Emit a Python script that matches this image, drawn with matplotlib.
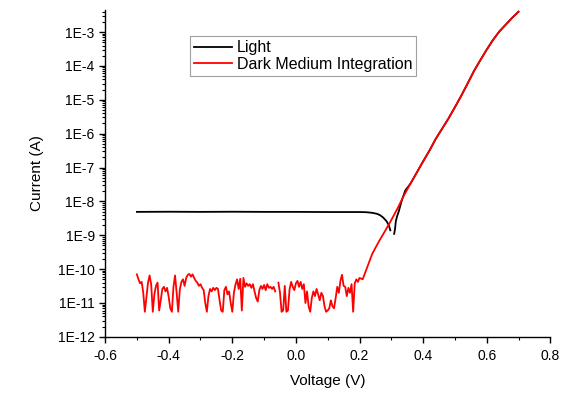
import numpy as np
import matplotlib
matplotlib.use('Agg')
import matplotlib.pyplot as plt
from matplotlib.ticker import FuncFormatter, LogLocator, MultipleLocator, NullFormatter

plt.rcParams['font.family'] = ['Liberation Sans', 'DejaVu Sans']
plt.rcParams['axes.unicode_minus'] = False

# Dark current noise floor, -0.5 V .. 0.2 V in 5 mV steps (units of 1E-11 A)
noise_start = -0.5
noise_step = 0.005
dark_noise_e11 = [
    7.0, 5.0, 3.8, 4.2, 2.0, 0.55, 1.5, 4.0, 6.5, 3.5,
    0.55, 1.8, 3.2, 4.0, 0.6, 1.2, 2.6, 3.0, 2.2, 2.8,
    1.5, 0.7, 0.55, 3.0, 6.5, 2.0, 0.55, 2.5, 4.2, 5.0,
    3.2, 5.5, 6.8, 7.2, 6.0, 7.0, 5.5, 4.5, 4.0, 3.2,
    3.6, 2.8, 2.4, 1.0, 0.55, 1.6, 2.6, 2.2, 2.8, 2.4,
    2.8, 2.6, 1.2, 0.6, 0.55, 2.4, 3.0, 1.8, 2.2, 1.0,
    0.55, 2.0, 3.5, 5.0, 2.6, 5.2, 0.6, 5.5, 3.0, 3.8,
    3.2, 3.6, 2.8, 3.6, 2.2, 1.4, 1.1, 2.4, 3.2, 2.6,
    3.4, 2.4, 3.6, 2.8, 3.0, 2.6, 3.0, 2.2, np.nan, 4.0,
    2.0, 0.55, 0.6, 3.2, 0.55, 0.6, 2.5, 4.2, 3.0, 2.4,
    3.8, 4.5, 3.0, 4.2, 2.6, 3.6, 1.0, 2.2, 0.8, 0.55,
    1.4, 2.2, 1.6, 2.6, 1.8, 1.2, 2.0, 1.6, 0.8, 0.55,
    0.6, 0.7, 1.2, 0.8, 0.7, 1.4, 3.0, 2.0, 4.5, 6.8,
    3.2, 3.0, 1.6, 2.8, 2.0, 3.6, 0.55, 3.8, 5.0, 4.2,
    5.5,
]

# Forward-bias rise shared by both curves (log10 of current in A)
rise_v = [0.21, 0.22, 0.23, 0.24, 0.26, 0.28, 0.30, 0.32, 0.34, 0.36,
          0.38, 0.40, 0.42, 0.44, 0.46, 0.48, 0.50, 0.52, 0.54, 0.56,
          0.58, 0.60, 0.62, 0.64, 0.66, 0.68, 0.70]
rise_log_i = [-10.3, -10.05, -9.8, -9.55, -9.2, -8.88, -8.55, -8.2, -7.82, -7.48,
              -7.15, -6.82, -6.5, -6.15, -5.85, -5.55, -5.22, -4.88, -4.52, -4.15,
              -3.83, -3.52, -3.23, -2.98, -2.78, -2.58, -2.40]

# Light curve below the join point (A)
light_v = [-0.5, -0.4, -0.3, -0.2, -0.1, 0.0, 0.1, 0.2, 0.22, 0.24,
           0.255, 0.265, 0.275, 0.285, 0.292, 0.297]
light_i = [4.9e-9, 4.95e-9, 4.9e-9, 4.95e-9, 4.9e-9, 4.9e-9, 4.85e-9, 4.85e-9, 4.8e-9, 4.6e-9,
           4.3e-9, 3.9e-9, 3.3e-9, 2.6e-9, 2.0e-9, 1.4e-9]
light2_v = [0.309, 0.312, 0.314, 0.318, 0.323, 0.333, 0.344]
light2_i = [1.1e-9, 1.6e-9, 2.5e-9, 3.6e-9, 4.9e-9, 1.07e-8, 2.1e-8]

noise_i = np.array(dark_noise_e11) * 1e-11
noise_v = noise_start + noise_step * np.arange(len(noise_i))
rise_i = 10.0 ** np.array(rise_log_i)

dark_v = np.concatenate([noise_v, rise_v])
dark_i = np.concatenate([noise_i, rise_i])

after = np.array(rise_v) > 0.344
light_all_v = np.concatenate([light_v, [np.nan], light2_v, np.array(rise_v)[after]])
light_all_i = np.concatenate([light_i, [np.nan], light2_i, rise_i[after]])

fig = plt.figure(figsize=(5.65, 3.94), dpi=100)
ax = fig.add_axes([0.186, 0.145, 0.788, 0.829])

ax.plot(light_all_v, light_all_i, color='black', lw=1.3, label='Light', zorder=2)
ax.plot(dark_v, dark_i, color='#ff0000', lw=1.3, label='Dark Medium Integration', zorder=3)

ax.set_yscale('log')
ax.set_xlim(-0.6, 0.8)
ax.set_ylim(1e-12, 4.4e-3)

ax.xaxis.set_major_locator(MultipleLocator(0.2))
ax.xaxis.set_minor_locator(MultipleLocator(0.1))
ax.xaxis.set_major_formatter(FuncFormatter(lambda v, p: f"{v:.1f}"))
ax.yaxis.set_major_locator(LogLocator(base=10, numticks=20))
ax.yaxis.set_minor_locator(LogLocator(base=10, subs=np.arange(2, 10), numticks=20))
ax.yaxis.set_major_formatter(FuncFormatter(lambda v, p: f"1E{int(round(np.log10(v)))}"))
ax.yaxis.set_minor_formatter(NullFormatter())

for s in ['top', 'right']:
    ax.spines[s].set_visible(False)
for s in ['left', 'bottom']:
    ax.spines[s].set_linewidth(1.0)

ax.tick_params(which='major', direction='out', length=4, width=1, labelsize=10, colors='black')
ax.tick_params(axis='x', which='major', pad=5)
ax.tick_params(which='minor', direction='out', length=2.5, width=0.8)

ax.set_xlabel('Voltage (V)', fontsize=11, labelpad=8)
ax.set_ylabel('Current (A)', fontsize=11, labelpad=10)

leg = ax.legend(loc='upper left', bbox_to_anchor=(0.19, 0.92), borderaxespad=0,
                fancybox=False, fontsize=11.5, handlelength=2.4, handletextpad=0.3,
                borderpad=0.25, labelspacing=0.1)
leg.get_frame().set_edgecolor('#888888')
leg.get_frame().set_linewidth(0.8)

fig.savefig('out.png', dpi=100)
